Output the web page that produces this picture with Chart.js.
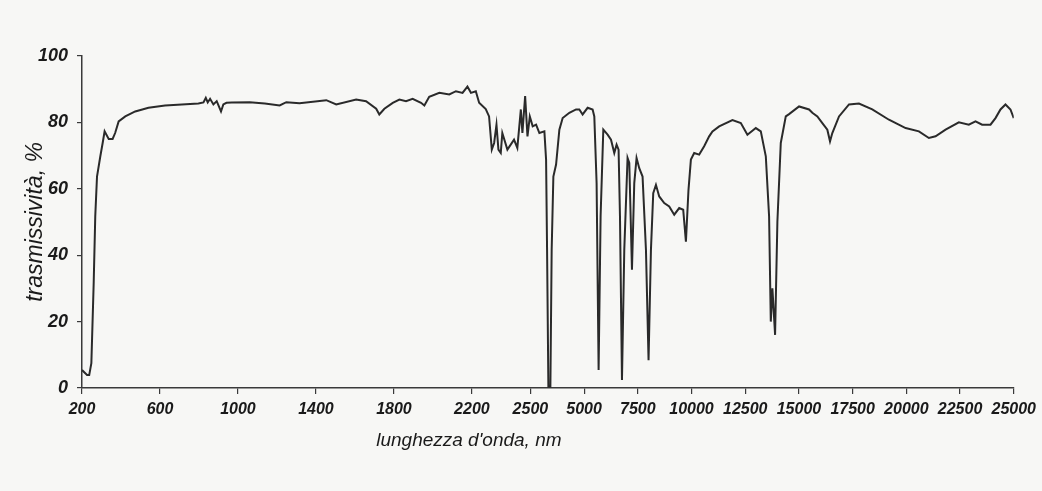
<!DOCTYPE html>
<html>
<head>
<meta charset="utf-8">
<script src="https://cdn.jsdelivr.net/npm/chart.js@4.4.1/dist/chart.umd.min.js"></script>
<style>
  html, body { margin: 0; padding: 0; background: #f7f7f5; }
  #wrap { width: 1042px; height: 491px; position: relative; }
</style>
</head>
<body>
<div id="wrap"><canvas id="c"></canvas></div>
<script>
// ---- data ----
const wavelengthNm = [
  200,226,237,248,260,268,277,294,306,316,337,357,370,388,422,473,541,626,712,797,
  823,835,845,857,874,891,913,925,941,968,1060,1138,1214,1248,1316,1453,1504,1606,1657,1709,
  1725,1751,1794,1828,1862,1896,1939,1956,1981,2033,2084,2118,2152,2177,2195,2220,2237,2271,2288,2302,
  2314,2326,2336,2348,2356,2382,2416,2433,2451,2459,2473,2485,2497,
  2607,2765,2918,3151,3230,3276,3337,3430,3490,3569,3695,3848,4002,4313,4625,4778,4931,5164,5396,5475,
  5582,5675,5768,5894,6094,6252,6405,6512,6605,6670,6763,6870,7023,7103,7228,7335,7442,7567,7721,7879,
  8000,8111,8218,8344,8497,8730,8962,9195,9427,9613,9739,9859,9971,10124,10357,10589,10822,10975,11287,11905,
  12295,12602,12993,13225,13458,13611,13690,13765,13890,13997,14155,14388,14541,15006,15471,15624,15857,16090,16322,16447,
  16554,16866,17331,17795,18414,19190,19966,20585,21050,21361,21826,22444,22909,23220,23527,23917,24150,24382,24615,24847,
  25000
];
const transmittance = [
  5.4,3.9,3.9,7.5,31.7,51.7,63.7,69.8,73.8,77.3,75,75,76.8,80.3,81.8,83.3,84.4,85.1,85.4,85.7,
  86,87.4,86,87.1,85.4,86.4,83.3,85.4,85.9,86,86.1,85.7,85.1,86.1,85.8,86.7,85.4,86.9,86.4,84.1,
  82.4,84.1,85.9,86.9,86.4,87.1,85.9,85.1,87.7,88.9,88.4,89.4,88.9,90.8,88.9,89.4,85.9,84,81.8,71.8,
  73.8,79.3,71.8,70.8,76.8,71.8,74.8,72.3,83.9,76.8,87.9,75.8,81.8,
  78.8,79.3,76.8,77.3,68.8,41.6,0.4,0.4,41.6,63.7,67.3,77.8,81.3,82.9,83.9,83.9,82.4,84.4,83.9,81.8,
  61.7,5.4,51.7,77.8,76.3,74.8,70.8,73.3,71.8,51.7,2.4,41.6,69.3,67.8,35.6,61.7,69.3,66.2,63.7,41.6,
  8.4,41.6,58.7,61.2,57.7,55.7,54.7,52.2,54.2,53.7,44.1,59.7,68.8,70.8,70.3,72.8,75.8,77.3,78.8,80.7,
  79.8,76.3,78.3,77.3,69.8,51.7,20,30,16,50,73.8,81.8,82.5,84.8,83.9,82.9,81.8,79.8,77.8,74.3,
  76.8,81.8,85.4,85.7,83.9,80.8,78.3,77.3,75.3,75.8,77.8,80,79.3,80.3,79.3,79.3,81.3,83.9,85.4,83.9,
  81.3
];
const xTickValues = [200,600,1000,1400,1800,2200,2500,5000,7500,10000,12500,15000,17500,20000,22500,25000];
const yTickValues = [0,20,40,60,80,100];
const xTitle = "lunghezza d'onda, nm";
const yTitle = "trasmissività, %";

// ---- broken linear axis: 200-2500 and 2500-25000 on two linear pieces ----
const AXIS_BREAK = 2500;
const BREAK_FRAC = 449 / 933;
class BrokenLinearScale extends Chart.LinearScale {
  static id = 'brokenLinear';
  static defaults = Chart.LinearScale.defaults;
  _frac(v) {
    if (v <= AXIS_BREAK) return (v - this.min) / (AXIS_BREAK - this.min) * BREAK_FRAC;
    return BREAK_FRAC + (v - AXIS_BREAK) / (this.max - AXIS_BREAK) * (1 - BREAK_FRAC);
  }
  getPixelForValue(v) { return this.getPixelForDecimal(this._frac(v)); }
  getValueForPixel(p) {
    const d = this.getDecimalForPixel(p);
    if (d <= BREAK_FRAC) return this.min + d / BREAK_FRAC * (AXIS_BREAK - this.min);
    return AXIS_BREAK + (d - BREAK_FRAC) / (1 - BREAK_FRAC) * (this.max - AXIS_BREAK);
  }
  drawTitle() {
    const dx = this.options.title.offsetX || 0;
    this.ctx.save();
    this.ctx.translate(dx, 0);
    super.drawTitle();
    this.ctx.restore();
  }
}
Chart.register(BrokenLinearScale);

const FAMILY = "'Liberation Sans', Arial, sans-serif";
const AXIS_COLOR = '#3a3a3a';

new Chart(document.getElementById('c'), {
  type: 'line',
  data: {
    datasets: [{
      data: wavelengthNm.map((w, i) => ({ x: w, y: transmittance[i] })),
      borderColor: '#2a2a2a',
      borderWidth: 2,
      pointRadius: 0,
      tension: 0,
      fill: false
    }]
  },
  options: {
    responsive: true,
    maintainAspectRatio: false,
    animation: false,
    events: [],
    layout: { padding: { top: 56, right: 27, left: 0, bottom: 0 } },
    plugins: { legend: { display: false }, tooltip: { enabled: false } },
    scales: {
      x: {
        type: 'brokenLinear',
        min: 200,
        max: 25000,
        afterFit: s => { s.height = 103; },
        afterBuildTicks: s => { s.ticks = xTickValues.map(v => ({ value: v })); },
        border: { display: true, color: AXIS_COLOR, width: 1.5 },
        grid: { display: true, drawOnChartArea: false, drawTicks: true, tickLength: 6, color: AXIS_COLOR, lineWidth: 1.2 },
        ticks: {
          autoSkip: false, maxRotation: 0, minRotation: 0, padding: 6,
          color: '#1a1a1a',
          font: { family: FAMILY, size: 16, weight: 'bold', style: 'italic' },
          callback: v => String(v)
        },
        title: {
          display: true, text: xTitle, color: '#1a1a1a', offsetX: -79,
          font: { family: FAMILY, size: 19, style: 'italic' },
          padding: { top: 0, bottom: 39 }
        }
      },
      y: {
        type: 'linear',
        min: 0,
        max: 100,
        afterFit: s => { s.width = 82; },
        afterBuildTicks: s => { s.ticks = yTickValues.map(v => ({ value: v })); },
        border: { display: true, color: AXIS_COLOR, width: 1.5 },
        grid: { display: true, drawOnChartArea: false, drawTicks: true, tickLength: 5, color: AXIS_COLOR, lineWidth: 1.2 },
        ticks: {
          padding: 9,
          color: '#1a1a1a',
          font: { family: FAMILY, size: 18, weight: 'bold', style: 'italic' },
          callback: v => String(v)
        },
        title: {
          display: true, text: yTitle, color: '#1a1a1a',
          font: { family: FAMILY, size: 23, style: 'italic' },
          padding: { top: 22, bottom: 0 }
        }
      }
    }
  }
});
</script>
</body>
</html>
